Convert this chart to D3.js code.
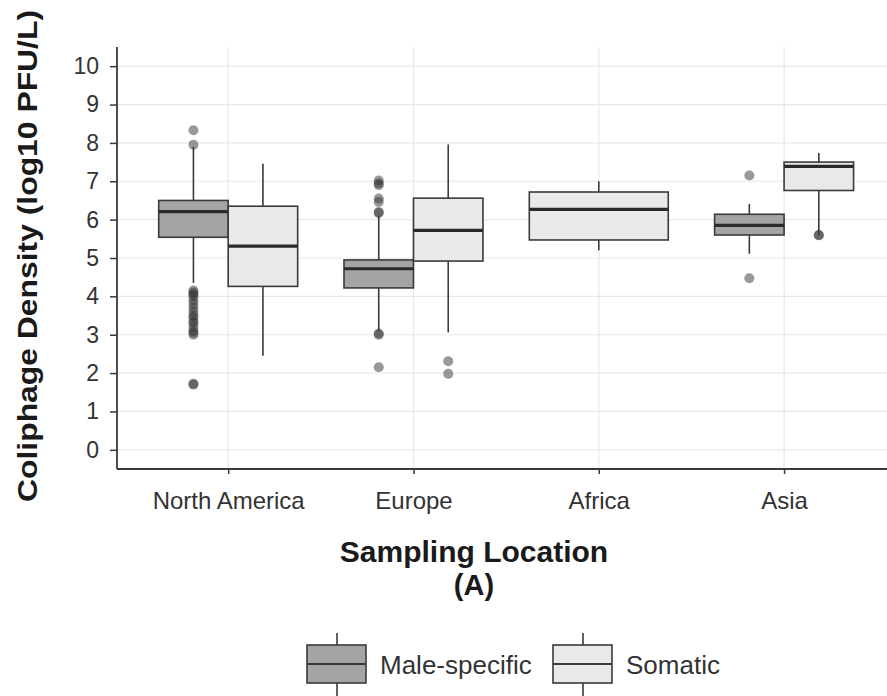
<!DOCTYPE html>
<html>
<head>
<meta charset="utf-8">
<script src="https://cdn.jsdelivr.net/npm/d3@7"></script>
<style>
  body { margin: 0; background: #fff; }
  text { font-family: "Liberation Sans", Arial, sans-serif; }
</style>
</head>
<body>
<div id="chart"></div>
<script>
const locations = ["North America", "Europe", "Africa", "Asia"]
const groups = ["Male-specific", "Somatic"]
const yTicks = [0, 1, 2, 3, 4, 5, 6, 7, 8, 9, 10]

// [lower whisker, Q1, median, Q3, upper whisker], null = no samples
const maleStats = [
  [4.35, 5.54, 6.21, 6.5, 7.9],
  [3.1, 4.22, 4.72, 4.95, 6.1],
  null,
  [5.11, 5.6, 5.85, 6.14, 6.41]
]
const somaticStats = [
  [2.45, 4.26, 5.31, 6.35, 7.46],
  [3.06, 4.92, 5.72, 6.56, 7.96],
  [5.2, 5.47, 6.27, 6.72, 7.0],
  [5.59, 6.76, 7.39, 7.5, 7.74]
]
const maleOutliers = [
  [8.33, 7.95, 4.15, 4.1, 4.05, 4.0, 3.9, 3.8, 3.7, 3.6, 3.5, 3.45, 3.35, 3.3, 3.2, 3.1, 3.05, 3.0, 1.72, 1.7],
  [7.02, 6.94, 6.9, 6.55, 6.46, 6.2, 6.17, 3.03, 3.0, 2.15],
  [],
  [7.15, 4.47]
]
const somaticOutliers = [
  [],
  [2.31, 1.98],
  [],
  [5.59, 5.6]
]

const fills = {"Male-specific": "#a4a4a4", "Somatic": "#e9e9e9"}
const lineCol = "#3a3a3a"

const width = 887
const height = 696
const margin = {left: 117, top: 47, bottom: 469}

const svg = d3.select("#chart").append("svg")
    .attr("width", width)
    .attr("height", height)

const x = d3.scalePoint()
    .domain(locations)
    .range([margin.left, margin.left + 4.2 * 185.3])
    .padding(0.6)
const step = x.step()
const dodge = step * 0.75

const y = d3.scaleLinear()
    .domain([-0.5, 10.5])
    .range([margin.bottom, margin.top])

// grid
const grid = svg.append("g")
grid.selectAll(".hg").data(yTicks).enter().append("line")
    .attr("x1", margin.left).attr("x2", width)
    .attr("y1", d => y(d)).attr("y2", d => y(d))
    .style("stroke", "#e8e8e8").style("stroke-width", 1.2)
grid.selectAll(".vg").data(locations).enter().append("line")
    .attr("x1", d => x(d)).attr("x2", d => x(d))
    .attr("y1", margin.top).attr("y2", margin.bottom)
    .style("stroke", "#e8e8e8").style("stroke-width", 1.2)

// build box records
const boxes = []
locations.forEach((loc, i) => {
  const present = [
    {g: groups[0], s: maleStats[i], o: maleOutliers[i]},
    {g: groups[1], s: somaticStats[i], o: somaticOutliers[i]}
  ].filter(b => b.s)
  const w = dodge / present.length
  present.forEach((b, j) => {
    boxes.push({
      loc: loc, group: b.g, stats: b.s, outliers: b.o,
      cx: x(loc) - dodge / 2 + w * (j + 0.5), w: w
    })
  })
})

const boxG = svg.append("g").selectAll(".box")
    .data(boxes)
    .enter()
    .append("g")
    .attr("class", "box")

// whiskers
boxG.append("line")
    .attr("x1", d => d.cx).attr("x2", d => d.cx)
    .attr("y1", d => y(d.stats[0])).attr("y2", d => y(d.stats[4]))
    .style("stroke", lineCol).style("stroke-width", 1.6)

boxG.append("rect")
    .attr("x", d => d.cx - d.w / 2)
    .attr("width", d => d.w)
    .attr("y", d => y(d.stats[3]))
    .attr("height", d => y(d.stats[1]) - y(d.stats[3]))
    .style("fill", d => fills[d.group])
    .style("stroke", lineCol).style("stroke-width", 1.6)

boxG.append("line")
    .attr("x1", d => d.cx - d.w / 2).attr("x2", d => d.cx + d.w / 2)
    .attr("y1", d => y(d.stats[2])).attr("y2", d => y(d.stats[2]))
    .style("stroke", "#2a2a2a").style("stroke-width", 3.2)

boxG.each(function(d) {
  d3.select(this).selectAll("circle")
      .data(d.outliers)
      .enter()
      .append("circle")
      .attr("cx", d.cx)
      .attr("cy", v => y(v))
      .attr("r", 5)
      .style("fill", "#333")
      .style("opacity", 0.5)
})

// axes
const yAxis = d3.axisLeft(y).tickValues(yTicks).tickSize(7).tickPadding(11)
const yg = svg.append("g")
    .attr("transform", `translate(${margin.left},0)`)
    .call(yAxis)
yg.select(".domain").attr("d", `M0,${margin.top}V${margin.bottom}`)
    .style("stroke", lineCol).style("stroke-width", 1.8)
yg.selectAll(".tick line").style("stroke", lineCol).style("stroke-width", 1.5)
yg.selectAll(".tick text").style("font-size", "23px").style("fill", "#333")

const xAxis = d3.axisBottom(x).tickSize(5).tickPadding(18)
const xg = svg.append("g")
    .attr("transform", `translate(0,${margin.bottom})`)
    .call(xAxis)
xg.select(".domain").attr("d", `M${margin.left},0H${width}`)
    .style("stroke", lineCol).style("stroke-width", 1.8)
xg.selectAll(".tick line").style("stroke", lineCol).style("stroke-width", 1.5)
xg.selectAll(".tick text").style("font-size", "24px").style("fill", "#333")

// titles
svg.append("text")
    .attr("x", 474).attr("y", 562)
    .style("text-anchor", "middle")
    .style("font-size", "30px").style("font-weight", "bold").style("fill", "#1a1a1a")
    .text("Sampling Location")
svg.append("text")
    .attr("x", 474).attr("y", 595)
    .style("text-anchor", "middle")
    .style("font-size", "29px").style("font-weight", "bold").style("fill", "#1a1a1a")
    .text("(A)")
svg.append("text")
    .attr("transform", "translate(37,256) rotate(-90)")
    .style("text-anchor", "middle")
    .style("font-size", "28px").style("font-weight", "bold").style("fill", "#1a1a1a")
    .attr("textLength", 492).attr("lengthAdjust", "spacingAndGlyphs")
    .text("Coliphage Density (log10 PFU/L)")

// legend
const legendPos = [{kx: 307, tx: 380}, {kx: 553, tx: 626}]
const leg = svg.append("g").selectAll(".key")
    .data(groups)
    .enter()
    .append("g")
    .attr("class", "key")
leg.append("line")
    .attr("x1", (d, i) => legendPos[i].kx + 30).attr("x2", (d, i) => legendPos[i].kx + 30)
    .attr("y1", 633).attr("y2", 696)
    .style("stroke", lineCol).style("stroke-width", 1.6)
leg.append("rect")
    .attr("x", (d, i) => legendPos[i].kx).attr("y", 645)
    .attr("width", 59).attr("height", 38)
    .style("fill", d => fills[d])
    .style("stroke", lineCol).style("stroke-width", 1.6)
leg.append("line")
    .attr("x1", (d, i) => legendPos[i].kx).attr("x2", (d, i) => legendPos[i].kx + 59)
    .attr("y1", 664).attr("y2", 664)
    .style("stroke", lineCol).style("stroke-width", 2)
leg.append("text")
    .attr("x", (d, i) => legendPos[i].tx).attr("y", 674)
    .style("font-size", "26px").style("fill", "#333")
    .text(d => d)
</script>
</body>
</html>
